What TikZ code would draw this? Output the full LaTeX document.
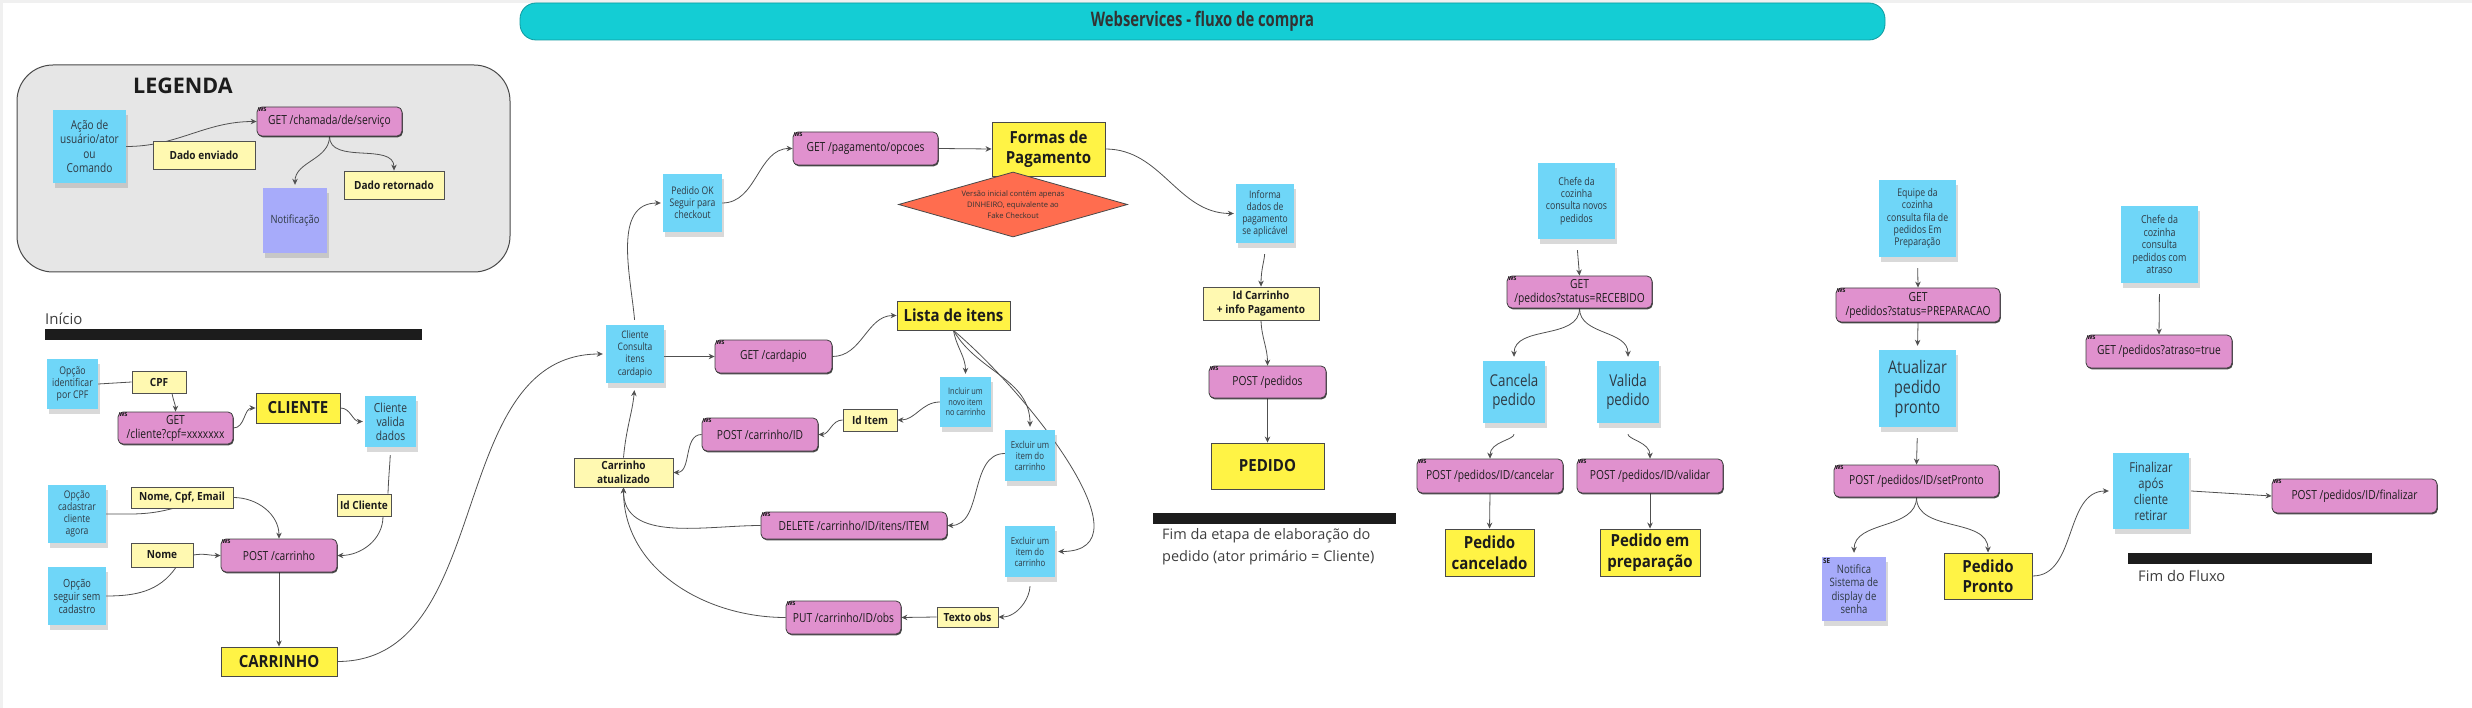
\documentclass[tikz,border=0pt]{standalone}
\usepackage{fontspec}
\setmainfont{Open Sans}
\newfontfamily\condreg{Open Sans}[FakeStretch=0.82]
\newfontfamily\condbold{Open Sans}[FakeStretch=0.9]
\newfontfamily\titlefont{Open Sans}[FakeStretch=0.74]
\usetikzlibrary{arrows.meta, shapes.geometric, shadows, backgrounds}

\definecolor{stickyblue}{HTML}{6FD6F8}
\definecolor{stickyviolet}{HTML}{A7ABFA}
\definecolor{wspink}{HTML}{E091CE}
\definecolor{entityyellow}{HTML}{FFF345}
\definecolor{datayellow}{HTML}{FFF9B1}
\definecolor{alertred}{HTML}{FF6D4F}
\definecolor{titlecyan}{HTML}{14CDD4}
\definecolor{legendgray}{HTML}{E6E6E6}
\definecolor{linegray}{HTML}{505050}
\definecolor{inkdark}{HTML}{1C1C1C}
\definecolor{inksoft}{HTML}{2F3A44}

\newcommand{\fsz}[2]{\fontsize{#1}{#2}\selectfont}

\tikzset{
  sz/.style 2 args={minimum width=#1pt, minimum height=#2pt},
  sticky/.style={fill=stickyblue, text=inksoft, align=center, inner sep=1pt,
    drop shadow={shadow xshift=1.5pt, shadow yshift=-5pt, opacity=0.3}},
  stickyvio/.style={sticky, fill=stickyviolet},
  wstag/.style={anchor=north west, inner sep=1.2pt, font=\condbold\bfseries\fsz{7}{7}, text=inkdark},
  wsbox/.style={fill=wspink, draw=inkdark!85, line width=0.8pt, rounded corners=5pt,
    text=inkdark, align=center, inner sep=1pt, font=\condreg\fsz{12.5}{14},
    drop shadow={shadow xshift=0.8pt, shadow yshift=-1.3pt, fill=inkdark, opacity=0.8},
    label={[wstag]north west:ws}},
  datalabel/.style={fill=datayellow, draw=linegray, line width=0.8pt, text=inkdark,
    align=center, inner sep=1pt, font=\condbold\bfseries\fsz{11.2}{14}},
  entity/.style={fill=entityyellow, draw=inkdark!80, line width=0.9pt, text=inkdark,
    align=center, inner sep=1pt, font=\condbold\bfseries\fsz{16.7}{20.5}},
  endnote/.style={anchor=west, align=left, inner sep=0pt, text=inkdark!85},
  conn/.style={draw=linegray, line width=0.8pt},
  arr/.style={conn, -{Stealth[length=6pt, width=5.5pt]}},
  fromsticky/.style={shorten <=11pt},
}

\begin{document}
\begin{tikzpicture}[x=1pt, y=1pt]
\useasboundingbox (0,0) rectangle (2472,-708);
\fill[gray!12] (0,0) rectangle (2472,-3);
\fill[gray!12] (0,0) rectangle (3,-708);

% Title
\node[fill=titlecyan, draw=titlecyan!75!black, line width=0.8pt, rounded corners=16pt,
  sz={1365}{37}, font=\titlefont\bfseries\fsz{20}{22}, text=inkdark!90] (title) at (1202.5,-21.5)
  {Webservices - fluxo de compra};

% Legenda
\begin{scope}[on background layer]
\draw[fill=legendgray, draw=inkdark!80, line width=1pt, rounded corners=36pt] (17,-65) rectangle (510,-272);
\end{scope}
\node[font=\bfseries\fsz{21.5}{24}, text=inkdark] (legtitle) at (183,-86) {LEGENDA};
\node[sticky, sz={73}{73}, font=\condreg\fsz{12.3}{14.3}] (legacao) at (89.5,-146.5) {Ação de\\usuário/ator\\ou\\Comando};
\node[wsbox, sz={145}{29}] (legws) at (329.5,-121.5) {GET /chamada/de/serviço};
\node[datalabel, sz={102}{28}] (legenv) at (204,-155) {Dado enviado};
\node[datalabel, sz={100}{28}] (legret) at (394,-185) {Dado retornado};
\node[stickyvio, sz={64}{65}, font=\condreg\fsz{11.4}{13}] (legnotif) at (295,-220.5) {Notificação};

% Inicio: cliente e carrinho
\node[endnote, font=\fsz{15}{18}] (inicio) at (45,-319) {Início};
\fill[inkdark] (45,-329) rectangle (422,-340);
\node[sticky, sz={51}{50}, font=\condreg\fsz{10.6}{12}] (opcpf) at (72.5,-384) {Opção\\identificar\\por CPF};
\node[datalabel, sz={54}{22}] (cpf) at (159,-382) {CPF};
\node[wsbox, sz={115}{32}] (getcli) at (175.5,-428) {GET\\/cliente?cpf=xxxxxxx};
\node[entity, sz={84}{30}] (cliente) at (298,-408) {CLIENTE};
\node[sticky, sz={51}{51}, font=\condreg\fsz{12.5}{14}] (clival) at (390.5,-421.5) {Cliente\\valida\\dados};
\node[sticky, sz={58}{58}, font=\condreg\fsz{10.5}{12.2}] (opcad) at (77,-514) {Opção\\cadastrar\\cliente\\agora};
\node[datalabel, sz={102}{21}] (nomecpf) at (182,-497.5) {Nome, Cpf, Email};
\node[datalabel, sz={62}{24}] (nome) at (162,-555) {Nome};
\node[sticky, sz={58}{58}, font=\condreg\fsz{11.2}{13}] (opsem) at (77,-596) {Opção\\seguir sem\\cadastro};
\node[wsbox, sz={116}{33}] (postcar) at (279,-555.5) {POST /carrinho};
\node[datalabel, sz={54}{22}] (idcli) at (364,-505) {Id Cliente};
\node[entity, sz={116}{29}] (carrinho) at (279,-661.5) {CARRINHO};

% Itens do carrinho
\node[sticky, sz={59}{58}, font=\condreg\fsz{10.5}{12}] (pedok) at (692.5,-203) {Pedido OK\\Seguir para\\checkout};
\node[wsbox, sz={145}{33}] (getpag) at (865.5,-148.5) {GET /pagamento/opcoes};
\node[entity, sz={113}{54}] (formas) at (1048.5,-149) {Formas de\\Pagamento};
\node[shape=diamond, aspect=3.5, fill=alertred, draw=inkdark!80, line width=0.8pt, inner sep=0pt,
  sz={229}{65}, align=center, font=\fsz{7.6}{11}, text=inkdark!90] (aviso) at (1013,-204.5)
  {Versão inicial contém apenas\\DINHEIRO, equivalente ao\\Fake Checkout};
\node[sticky, sz={58}{58}, font=\condreg\fsz{10.3}{12.4}] (clicons) at (635,-354) {Cliente\\Consulta\\itens\\cardapio};
\node[wsbox, sz={117}{33}] (getcard) at (773.5,-356.5) {GET /cardapio};
\node[entity, sz={113}{29}] (lista) at (953.5,-315.5) {Lista de itens};
\node[sticky, sz={51}{50}, font=\condreg\fsz{9}{10.5}] (incluir) at (965.5,-402) {Incluir um\\novo item\\no carrinho};
\node[datalabel, sz={54}{22}] (iditem) at (870,-420) {Id Item};
\node[wsbox, sz={116}{33}] (postcarid) at (760,-434.5) {POST /carrinho/ID};
\node[datalabel, sz={99}{29}] (caratual) at (623.5,-472.5) {Carrinho\\atualizado};
\node[wsbox, sz={186}{27}] (delete) at (854,-525.5) {DELETE /carrinho/ID/itens/ITEM};
\node[sticky, sz={50}{51}, font=\condreg\fsz{9.6}{11}] (excl1) at (1030,-455.5) {Excluir um\\item do\\carrinho};
\node[sticky, sz={50}{51}, font=\condreg\fsz{9.6}{11}] (excl2) at (1030,-551.5) {Excluir um\\item do\\carrinho};
\node[datalabel, sz={61}{20}] (textobs) at (967.5,-617) {Texto obs};
\node[wsbox, sz={115}{33}] (put) at (843.5,-617.5) {PUT /carrinho/ID/obs};

% Pedido
\node[sticky, sz={58}{59}, font=\condreg\fsz{10.4}{12}] (informa) at (1265,-213.5) {Informa\\dados de\\pagamento\\se aplicável};
\node[datalabel, sz={116}{33}] (idcarr) at (1261,-303.5) {Id Carrinho\\+ info Pagamento};
\node[wsbox, sz={117}{32}] (postped) at (1267.5,-382) {POST /pedidos};
\node[entity, sz={113}{46}] (pedido) at (1267.5,-466) {PEDIDO};
\fill[inkdark] (1153,-513) rectangle (1396,-524);
\node[endnote, font=\fsz{14.5}{22}] (fimetapa) at (1162,-547) {Fim da etapa de elaboração do\\pedido (ator primário = Cliente)};

% Cozinha
\node[sticky, sz={77}{76}, font=\condreg\fsz{10.7}{12.3}] (chefe1) at (1576.5,-201) {Chefe da\\cozinha\\consulta novos\\pedidos};
\node[wsbox, sz={145}{32}] (getrec) at (1579.5,-292) {GET\\/pedidos?status=RECEBIDO};
\node[sticky, sz={62}{62}, font=\condreg\fsz{16.3}{19}] (cancela) at (1514,-392) {Cancela\\pedido};
\node[sticky, sz={62}{62}, font=\condreg\fsz{16.3}{19}] (valida) at (1628,-392) {Valida\\pedido};
\node[wsbox, sz={146}{34}] (postcanc) at (1490,-476) {POST /pedidos/ID/cancelar};
\node[wsbox, sz={146}{34}] (postval) at (1650,-476) {POST /pedidos/ID/validar};
\node[entity, sz={89}{47}] (pedcanc) at (1489.5,-552.5) {Pedido\\cancelado};
\node[entity, sz={100}{47}] (pedprep) at (1650,-552.5) {Pedido em\\preparação};

\node[sticky, sz={77}{77}, font=\condreg\fsz{10.6}{12.3}] (equipe) at (1917.5,-218.5) {Equipe da\\cozinha\\consulta fila de\\pedidos Em\\Preparação};
\node[wsbox, sz={164}{34}] (getprep) at (1918,-305) {GET\\/pedidos?status=PREPARACAO};
\node[sticky, sz={77}{77}, font=\condreg\fsz{17.5}{20}] (atualizar) at (1917.5,-388.5) {Atualizar\\pedido\\pronto};
\node[wsbox, sz={165}{32}] (setpronto) at (1916.5,-481) {POST /pedidos/ID/setPronto};
\node[stickyvio, sz={64}{64}, font=\condreg\fsz{11.6}{13.3}, label={[wstag]north west:SE}] (notifse) at (1854,-589) {Notifica\\Sistema de\\display de\\senha};
\node[entity, sz={88}{46}] (pedpronto) at (1988,-576) {Pedido\\Pronto};
\node[sticky, sz={76}{76}, font=\condreg\fsz{13.7}{16}] (finalizar) at (2151,-491) {Finalizar\\após\\cliente\\retirar};
\node[wsbox, sz={165}{34}] (postfin) at (2354.5,-496) {POST /pedidos/ID/finalizar};
\fill[inkdark] (2128,-553) rectangle (2372,-564);
\node[endnote, font=\fsz{14.7}{18}] (fimfluxo) at (2138,-576) {Fim do Fluxo};
\node[sticky, sz={77}{77}, font=\condreg\fsz{10.9}{12.5}] (chefe2) at (2159.5,-244.5) {Chefe da\\cozinha\\consulta\\pedidos com\\atraso};
\node[wsbox, sz={146}{33}] (getatraso) at (2159,-351.5) {GET /pedidos?atraso=true};

% Connectors
\begin{scope}[on background layer]
\draw[arr] (legacao.east) to[out=0, in=180] (legws.west);
\draw[arr] (legws.south) to[out=-90, in=90] ([yshift=3pt]legnotif.north);
\draw[arr] (legws.south) to[out=-90, in=90] (legret.north);

\draw[conn] (opcpf.east) -- (cpf.west);
\draw[arr] ([xshift=13pt]cpf.south) to[out=-80, in=90] (getcli.north);
\draw[arr] (getcli.east) to[out=0, in=180] (cliente.west);
\draw[arr] (cliente.east) to[out=0, in=180] ([xshift=-2pt]clival.west);
\draw[conn, shorten <=8pt] (clival.south) to[out=-92, in=88] ([xshift=24pt]idcli.north);
\draw[arr] ([xshift=19pt]idcli.south) to[out=-90, in=0] (postcar.east);
\draw[conn] (opcad.east) to[out=0, in=195] ([xshift=-9pt]nomecpf.south);
\draw[arr] (nomecpf.east) to[out=0, in=90] (postcar.north);
\draw[conn] (opsem.east) to[out=0, in=-125] ([xshift=14pt]nome.south);
\draw[arr] (nome.east) to[out=10, in=180] (postcar.west);
\draw[arr] (postcar.south) -- (carrinho.north);
\draw[arr] (carrinho.east) to[out=0, in=180] ([xshift=-3pt]clicons.west);

\draw[arr, shorten <=5pt] (clicons.north) to[out=95, in=180] ([xshift=-2pt]pedok.west);
\draw[arr] (pedok.east) to[out=0, in=180] (getpag.west);
\draw[arr] (getpag.east) -- (formas.west);
\draw[arr] (formas.east) to[out=0, in=180] ([xshift=-2pt]informa.west);
\draw[arr] (clicons.east |- getcard.west) -- (getcard.west);
\draw[arr] (getcard.east) to[out=0, in=180] (lista.west);
\draw[arr] (lista.south) to[out=-80, in=90] ([yshift=3pt]incluir.north);
\draw[arr] (lista.south) to[out=-60, in=90] ([yshift=3pt]excl1.north);
\draw[arr] (lista.south) to[out=-40, in=0] ([xshift=3pt]excl2.east);
\draw[arr] (incluir.west) to[out=180, in=0] (iditem.east);
\draw[arr] (iditem.west) to[out=180, in=0] (postcarid.east);
\draw[arr] (postcarid.west) to[out=180, in=0] (caratual.east);
\draw[arr, shorten >=7pt] (caratual.north) to[out=85, in=-95] (clicons.south);
\draw[arr] ([yshift=2pt]excl1.west) to[out=180, in=0] (delete.east);
\draw[arr] (delete.west) to[out=180, in=-90] (caratual.south);
\draw[arr, shorten <=9pt] (excl2.south) to[out=-90, in=0] (textobs.east);
\draw[arr] (textobs.west) -- (put.east);
\draw[arr] (put.west) to[out=180, in=-90] (caratual.south);

\draw[arr, fromsticky] (informa.south) to[out=-92, in=90] (idcarr.north);
\draw[arr] (idcarr.south) to[out=-88, in=90] (postped.north);
\draw[arr] (postped.south) -- (pedido.north);

\draw[arr, fromsticky] (chefe1.south) -- (getrec.north);
\draw[arr] (getrec.south) to[out=-90, in=90] ([yshift=4pt]cancela.north);
\draw[arr] (getrec.south) to[out=-90, in=90] ([yshift=4pt]valida.north);
\draw[arr, fromsticky] (cancela.south) to[out=-90, in=90] (postcanc.north);
\draw[arr, fromsticky] (valida.south) to[out=-90, in=90] (postval.north);
\draw[arr] (postcanc.south) -- (pedcanc.north);
\draw[arr] (postval.south) -- (pedprep.north);

\draw[arr, fromsticky] (equipe.south) -- (getprep.north);
\draw[arr] (getprep.south) -- ([yshift=4pt]atualizar.north);
\draw[arr, fromsticky] (atualizar.south) -- (setpronto.north);
\draw[arr] (setpronto.south) to[out=-90, in=90] ([yshift=4pt]notifse.north);
\draw[arr] (setpronto.south) to[out=-90, in=90] (pedpronto.north);
\draw[arr] (pedpronto.east) to[out=0, in=180] ([xshift=-4pt]finalizar.west);
\draw[arr] ([xshift=2pt]finalizar.east) -- (postfin.west);
\draw[arr, fromsticky] (chefe2.south) -- (getatraso.north);
\end{scope}
\end{tikzpicture}
\end{document}
